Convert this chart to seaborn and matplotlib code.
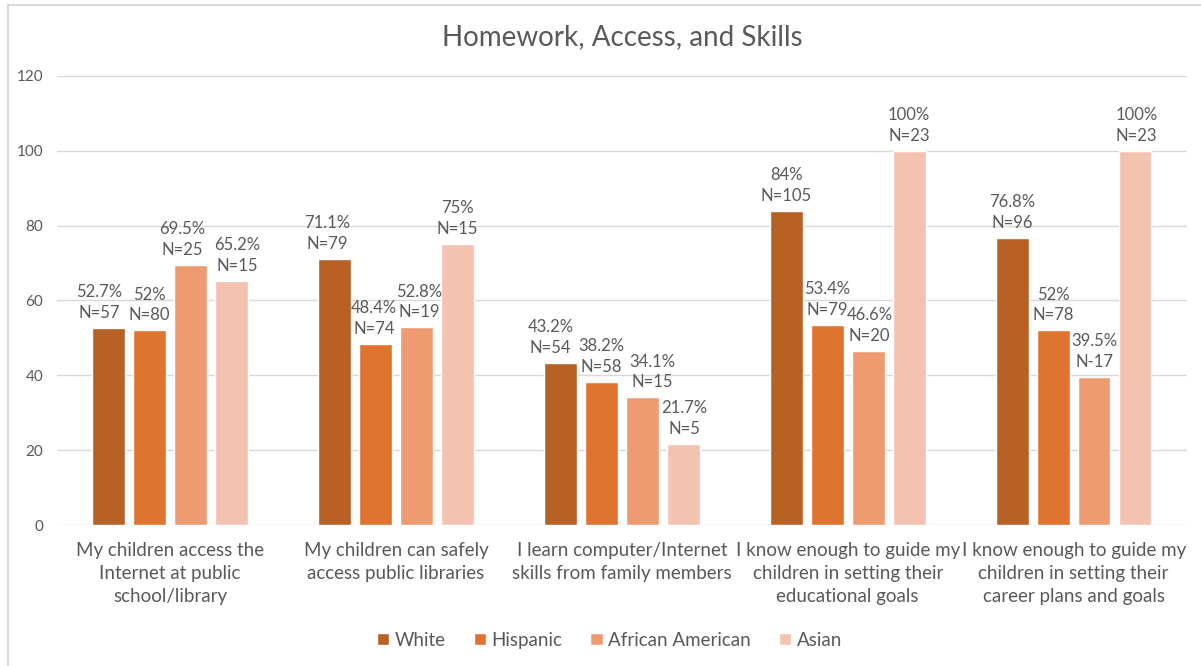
import matplotlib
matplotlib.use("Agg")
import matplotlib.pyplot as plt
import seaborn as sns
import pandas as pd
from matplotlib.lines import Line2D

categories = [
    "My children access the\nInternet at public\nschool/library",
    "My children can safely\naccess public libraries",
    "I learn computer/Internet\nskills from family members",
    "I know enough to guide my\nchildren in setting their\neducational goals",
    "I know enough to guide my\nchildren in setting their\ncareer plans and goals",
]
groups = ["White", "Hispanic", "African American", "Asian"]
white = [52.7, 71.1, 43.2, 84, 76.8]
hispanic = [52, 48.4, 38.2, 53.4, 52]
african_american = [69.5, 52.8, 34.1, 46.6, 39.5]
asian = [65.2, 75, 21.7, 100, 100]
n_white = ["N=57", "N=79", "N=54", "N=105", "N=96"]
n_hispanic = ["N=80", "N=74", "N=58", "N=79", "N=78"]
n_african_american = ["N=25", "N=19", "N=15", "N=20", "N-17"]
n_asian = ["N=15", "N=15", "N=5", "N=23", "N=23"]
title = "Homework, Access, and Skills"
yticks = [0, 20, 40, 60, 80, 100, 120]

# horizontal nudges (in points) of the data labels, as placed in the original
label_nudge = {
    "White": [-7, -5, -7, 0, 0],
    "Hispanic": [0, -1, 0, 0, 0],
    "African American": [-6, 2, 7, 1, 0],
    "Asian": [4, 0, 1, 0, 1],
}

colors = ["#B86125", "#DE7430", "#EF9B72", "#F4C2B0"]

rows = []
for g, vals, ns in zip(groups, [white, hispanic, african_american, asian],
                       [n_white, n_hispanic, n_african_american, n_asian]):
    for c, v, n in zip(categories, vals, ns):
        rows.append({"category": c, "group": g, "value": v, "n": n})
df = pd.DataFrame(rows)

sns.set_theme(style="white")
plt.rcParams["font.family"] = ["Lato", "DejaVu Sans"]
text_color = "#595959"

fig = plt.figure(figsize=(12.01, 6.66), dpi=100)
ax = fig.add_axes([0.0475, 0.2117, 0.9405, 0.6743])

sns.barplot(data=df, x="category", y="value", hue="group", order=categories,
            hue_order=groups, palette=colors, width=0.725, gap=0.2,
            saturation=1, legend=True, ax=ax, zorder=3)

ax.set_ylim(0, 120)
ax.set_yticks(yticks)
ax.set_yticklabels([str(t) for t in yticks], color=text_color, fontsize=11)
ax.grid(axis="y", color="#D9D9D9", linewidth=1, zorder=0)
ax.set_axisbelow(True)
for s in ax.spines.values():
    s.set_visible(False)
ax.tick_params(axis="both", length=0)
ax.tick_params(axis="y", pad=10)
ax.set_xlabel("")
ax.set_ylabel("")
ax.set_xticks(range(len(categories)))
ax.set_xticklabels(categories, fontsize=13.5, color=text_color, linespacing=1.45)
ax.tick_params(axis="x", pad=12)

def fmt(v):
    return f"{v:g}%"

for container, g in zip(ax.containers, groups):
    sub = df[df["group"] == g].set_index("category").loc[categories]
    for bar, v, n, dx in zip(container, sub["value"], sub["n"], label_nudge[g]):
        x = bar.get_x() + bar.get_width() / 2
        ax.annotate(f"{fmt(v)}\n{n}", (x, bar.get_height()), xytext=(dx, 5),
                    textcoords="offset points", ha="center", va="bottom",
                    fontsize=12, color=text_color, linespacing=1.38)

ax.set_title(title, fontsize=20, color=text_color, pad=22)

leg = ax.legend(loc="upper center", bbox_to_anchor=(0.489, -0.2), ncol=4,
                frameon=False, fontsize=13.5, handlelength=0.65, handleheight=0.65,
                columnspacing=1.5, handletextpad=0.3)
for t in leg.get_texts():
    t.set_color(text_color)

W, H = 1201, 666
fig.add_artist(Line2D([8 / W, 1.0], [1 - 5 / H, 1 - 5 / H], transform=fig.transFigure,
                      color="#D9D9D9", linewidth=1.5))
fig.add_artist(Line2D([8 / W, 8 / W], [0.0, 1 - 5 / H], transform=fig.transFigure,
                      color="#D9D9D9", linewidth=1.5))

fig.savefig("out.png", dpi=100, facecolor="white")
